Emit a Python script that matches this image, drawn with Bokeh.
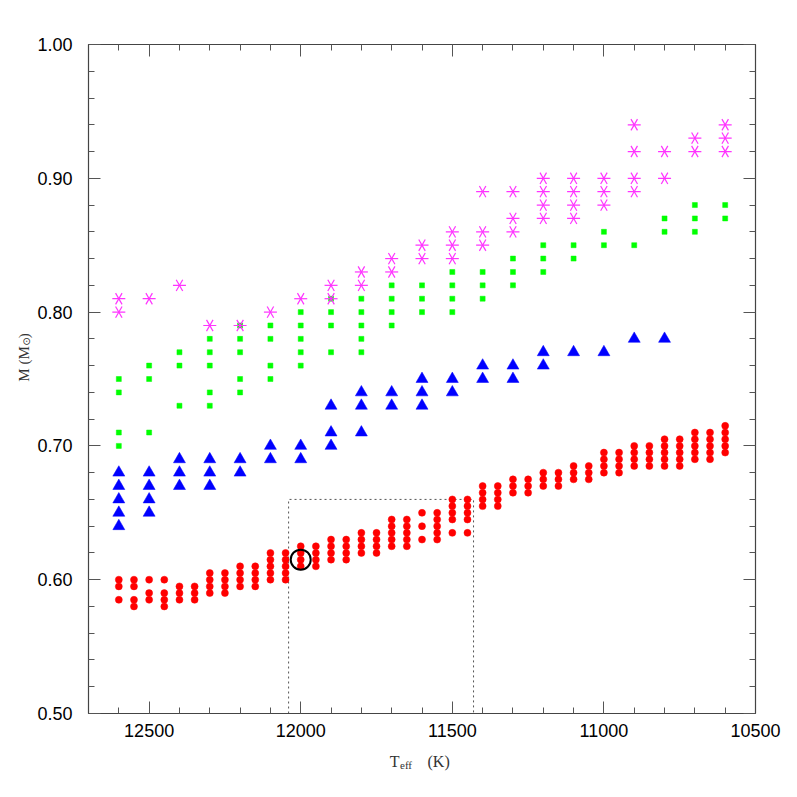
import math
from bokeh.plotting import figure
from bokeh.layouts import column, row
from bokeh.models import Range1d, FixedTicker, NumeralTickFormatter, LinearAxis, Label, ColumnDataSource
from bokeh.embed import file_html
from bokeh.resources import INLINE

# ---------------- data (Teff in K, mass in Msun) ----------------
red_models = [
    (12600, [0.600, 0.595, 0.585]),
    (12550, [0.600, 0.595, 0.585, 0.580]),
    (12500, [0.600, 0.590, 0.585]),
    (12450, [0.600, 0.590, 0.585, 0.580]),
    (12400, [0.595, 0.590, 0.585]),
    (12350, [0.595, 0.590, 0.585]),
    (12300, [0.605, 0.600, 0.595, 0.590]),
    (12250, [0.605, 0.600, 0.595, 0.590]),
    (12200, [0.610, 0.605, 0.600, 0.595]),
    (12150, [0.610, 0.605, 0.600, 0.595]),
    (12100, [0.620, 0.615, 0.610, 0.605, 0.600]),
    (12050, [0.620, 0.615, 0.610, 0.605, 0.600]),
    (12000, [0.625, 0.620, 0.615, 0.610]),
    (11950, [0.625, 0.620, 0.615, 0.610]),
    (11900, [0.630, 0.625, 0.620, 0.615]),
    (11850, [0.630, 0.625, 0.620, 0.615]),
    (11800, [0.635, 0.630, 0.625, 0.620]),
    (11750, [0.635, 0.630, 0.625, 0.620]),
    (11700, [0.645, 0.640, 0.635, 0.630, 0.625]),
    (11650, [0.645, 0.640, 0.635, 0.630, 0.625]),
    (11600, [0.650, 0.640, 0.630]),
    (11550, [0.650, 0.645, 0.640, 0.635, 0.630]),
    (11500, [0.660, 0.655, 0.650, 0.645, 0.635]),
    (11450, [0.660, 0.655, 0.650, 0.645, 0.635]),
    (11400, [0.670, 0.665, 0.660, 0.655]),
    (11350, [0.670, 0.665, 0.660, 0.655]),
    (11300, [0.675, 0.670, 0.665]),
    (11250, [0.675, 0.670, 0.665]),
    (11200, [0.680, 0.675, 0.670]),
    (11150, [0.680, 0.675, 0.670]),
    (11100, [0.685, 0.680, 0.675]),
    (11050, [0.685, 0.680, 0.675]),
    (11000, [0.695, 0.690, 0.685, 0.680]),
    (10950, [0.695, 0.690, 0.685, 0.680]),
    (10900, [0.700, 0.695, 0.690, 0.685]),
    (10850, [0.700, 0.695, 0.690, 0.685]),
    (10800, [0.705, 0.700, 0.695, 0.690, 0.685]),
    (10750, [0.705, 0.700, 0.695, 0.690, 0.685]),
    (10700, [0.710, 0.705, 0.700, 0.695, 0.690]),
    (10650, [0.710, 0.705, 0.700, 0.695, 0.690]),
    (10600, [0.715, 0.710, 0.705, 0.700, 0.695]),
]

blue_models = [
    (12600, [0.68, 0.67, 0.66, 0.65, 0.64]),
    (12500, [0.68, 0.67, 0.66, 0.65]),
    (12400, [0.69, 0.68, 0.67]),
    (12300, [0.69, 0.68, 0.67]),
    (12200, [0.69, 0.68]),
    (12100, [0.70, 0.69]),
    (12000, [0.70, 0.69]),
    (11900, [0.73, 0.71, 0.70]),
    (11800, [0.74, 0.73, 0.71]),
    (11700, [0.74, 0.73]),
    (11600, [0.75, 0.74, 0.73]),
    (11500, [0.75, 0.74]),
    (11400, [0.76, 0.75]),
    (11300, [0.76, 0.75]),
    (11200, [0.77, 0.76]),
    (11100, [0.77]),
    (11000, [0.77]),
    (10900, [0.78]),
    (10800, [0.78]),
]

green_models = [
    (12600, [0.75, 0.74, 0.71, 0.70]),
    (12500, [0.76, 0.75, 0.71]),
    (12400, [0.77, 0.76, 0.73]),
    (12300, [0.78, 0.77, 0.76, 0.74, 0.73]),
    (12200, [0.79, 0.78, 0.77, 0.75, 0.74]),
    (12100, [0.79, 0.78, 0.76, 0.75]),
    (12000, [0.80, 0.79, 0.78, 0.77, 0.76]),
    (11900, [0.81, 0.80, 0.79, 0.77]),
    (11800, [0.81, 0.80, 0.79, 0.78, 0.77]),
    (11700, [0.82, 0.81, 0.80, 0.79]),
    (11600, [0.82, 0.81, 0.80]),
    (11500, [0.83, 0.82, 0.81, 0.80]),
    (11400, [0.83, 0.82, 0.81]),
    (11300, [0.84, 0.83, 0.82]),
    (11200, [0.85, 0.84, 0.83]),
    (11100, [0.85, 0.84]),
    (11000, [0.86, 0.85]),
    (10900, [0.85]),
    (10800, [0.87, 0.86]),
    (10700, [0.88, 0.87, 0.86]),
    (10600, [0.88, 0.87]),
]

magenta_models = [
    (12600, [0.81, 0.80]),
    (12500, [0.81]),
    (12400, [0.82]),
    (12300, [0.79]),
    (12200, [0.79]),
    (12100, [0.80]),
    (12000, [0.81]),
    (11900, [0.82, 0.81]),
    (11800, [0.83, 0.82]),
    (11700, [0.84, 0.83]),
    (11600, [0.85, 0.84]),
    (11500, [0.86, 0.85, 0.84]),
    (11400, [0.89, 0.86, 0.85]),
    (11300, [0.89, 0.87, 0.86]),
    (11200, [0.90, 0.89, 0.88, 0.87]),
    (11100, [0.90, 0.89, 0.88, 0.87]),
    (11000, [0.90, 0.89, 0.88]),
    (10900, [0.94, 0.92, 0.90, 0.89]),
    (10800, [0.92, 0.90]),
    (10700, [0.93, 0.92]),
    (10600, [0.94, 0.93, 0.92]),
]

# highlighted model and dotted instability-strip box
highlight_teff = [12000]
highlight_mass = [0.615]
strip_teff_blue = 12040
strip_teff_red = 11430
strip_mass_top = 0.66

x_major = [12500, 12000, 11500, 11000, 10500]
x_minor = list(range(12700, 10499, -100))
y_major = [0.50, 0.60, 0.70, 0.80, 0.90, 1.00]
y_minor = [round(0.50 + 0.02 * i, 2) for i in range(26)]


def flatten(models):
    xs, ys = [], []
    for t, ms in models:
        for m in ms:
            xs.append(t)
            ys.append(m)
    return ColumnDataSource(dict(x=xs, y=ys))


# ---------------- layout sizes ----------------
YL_W = 34          # strip holding the y title
MAIN_W = 755
MAIN_H = 745
XL_H = 44          # strip holding the x title

# ---------------- main figure ----------------
p = figure(width=MAIN_W, height=MAIN_H, output_backend="svg", toolbar_location=None,
           x_range=Range1d(12700, 10500), y_range=Range1d(0.5, 1.0),
           min_border_left=53, min_border_right=34, min_border_top=44, min_border_bottom=32,
           background_fill_color="white", border_fill_color="white")
p.xgrid.visible = False
p.ygrid.visible = False
p.outline_line_color = "#444444"
p.outline_line_width = 1.2


def style_axis(ax):
    ax.major_tick_in = 12
    ax.major_tick_out = 0
    ax.minor_tick_in = 6
    ax.minor_tick_out = 0
    ax.axis_line_color = "#444444"
    ax.major_tick_line_color = "#555555"
    ax.minor_tick_line_color = "#555555"
    ax.major_label_text_font = "Liberation Sans"
    ax.major_label_text_font_size = "18px"
    ax.major_label_text_color = "black"


p.xaxis.ticker = FixedTicker(ticks=x_major, minor_ticks=x_minor)
p.yaxis.ticker = FixedTicker(ticks=y_major, minor_ticks=y_minor)
p.yaxis.formatter = NumeralTickFormatter(format="0.00")
p.xaxis.formatter = NumeralTickFormatter(format="0")
style_axis(p.xaxis[0])
style_axis(p.yaxis[0])
p.xaxis.major_label_standoff = 10
p.yaxis.major_label_standoff = 16

top_ax = LinearAxis(ticker=FixedTicker(ticks=x_major, minor_ticks=x_minor),
                    major_label_overrides={t: "" for t in x_major})
right_ax = LinearAxis(ticker=FixedTicker(ticks=y_major, minor_ticks=y_minor),
                      major_label_overrides={t: "" for t in y_major})
style_axis(top_ax)
style_axis(right_ax)
p.add_layout(top_ax, "above")
p.add_layout(right_ax, "right")

# dotted box
p.line(x=[strip_teff_blue, strip_teff_blue, strip_teff_red, strip_teff_red],
       y=[0.5, strip_mass_top, strip_mass_top, 0.5],
       line_color="#555555", line_width=1, line_dash="2 3")

# series
p.scatter("x", "y", source=flatten(red_models), marker="circle", size=7,
          fill_color="#ff0000", line_color="#ff0000", line_width=0.5)
p.scatter("x", "y", source=flatten(blue_models), marker="triangle", size=12,
          fill_color="#0000ff", line_color="#0000ff", line_width=0.5)
p.scatter("x", "y", source=flatten(green_models), marker="square", size=5,
          fill_color="#00ff00", line_color="#00ff00", line_width=0.5)
mag_src = flatten(magenta_models)
for ang in (0.0, math.pi / 3, 2 * math.pi / 3):
    p.scatter("x", "y", source=mag_src, marker="dash", size=13, angle=ang,
              line_color="#ff33ff", line_width=1.2)

p.scatter(x=highlight_teff, y=highlight_mass, marker="circle", size=20,
          fill_color=None, line_color="black", line_width=2)

# ---------------- title strips (labels drawn with subscripts) ----------------
serif = "Liberation Serif"
lab_col = "#333333"


def strip(w, h):
    f = figure(width=w, height=h, output_backend="svg", toolbar_location=None,
               x_range=Range1d(0, w), y_range=Range1d(0, h),
               x_axis_type=None, y_axis_type=None, min_border=0,
               background_fill_color="white", border_fill_color="white")
    f.outline_line_color = None
    f.grid.visible = False
    return f


def lab(fig, x, y, text, size, align, angle=0.0, font=serif):
    fig.add_layout(Label(x=x, y=y, text=text, angle=angle, text_font=font,
                         text_font_size=size, text_color=lab_col,
                         text_align=align, text_baseline="alphabetic"))


# y title strip: page pixel (px, py) -> data (px, MAIN_H - py)
yl = strip(YL_W, MAIN_H)
lab(yl, 23, MAIN_H - 336, "M (M", "15px", "right", math.pi / 2)
lab(yl, 26, MAIN_H - 335.5, "\u2299", "10px", "left", math.pi / 2, "DejaVu Sans")
lab(yl, 23, MAIN_H - 327, ")", "15px", "left", math.pi / 2)

# x title strip: page pixel py -> data (MAIN_H + XL_H - py)
xl = strip(YL_W + MAIN_W, XL_H)
base = MAIN_H + XL_H
lab(xl, 399, base - 761, "T", "16px", "right")
lab(xl, 399.5, base - 764, "eff", "11px", "left")
lab(xl, 427, base - 761, "(K)", "16px", "left")

layout = column(row(yl, p), xl)
open("out.html", "w").write(file_html(layout, INLINE))
